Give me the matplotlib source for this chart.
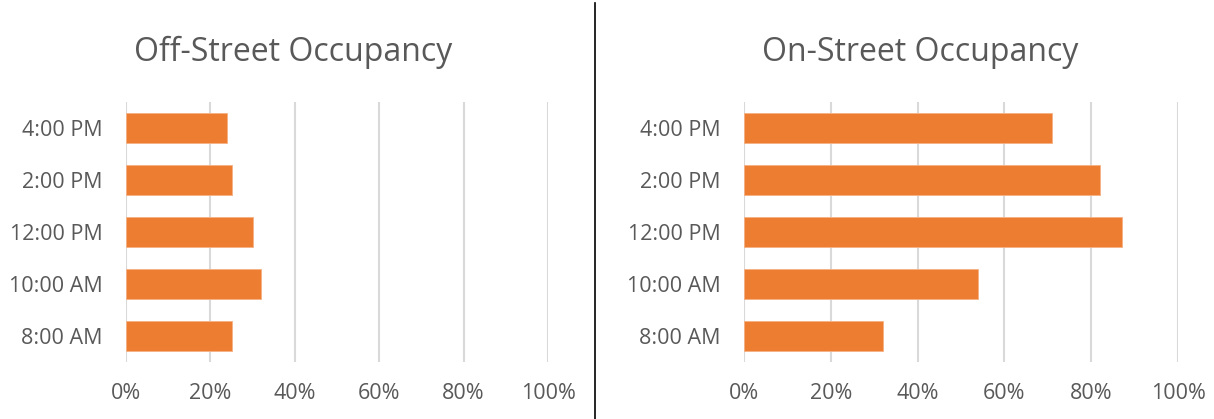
import matplotlib.pyplot as plt
from matplotlib.lines import Line2D

# Occupancy by time of day (fraction of spaces occupied)
times = ["8:00 AM", "10:00 AM", "12:00 PM", "2:00 PM", "4:00 PM"]
off_street = [0.25, 0.32, 0.30, 0.25, 0.24]
on_street = [0.32, 0.54, 0.87, 0.82, 0.71]
x_ticks = [0, 0.2, 0.4, 0.6, 0.8, 1.0]
x_labels = ["0%", "20%", "40%", "60%", "80%", "100%"]

bar_color = "#ED7D31"
grid_color = "#D9D9D9"
text_color = "#595959"

plt.rcParams['font.family'] = ['Open Sans', 'DejaVu Sans']

W, H = 1214, 419
fig = plt.figure(figsize=(W / 100, H / 100), dpi=100)

# title, values, axes left/width in px, title centre in px
panels = [
    ("Off-Street Occupancy", off_street, [126, 422], 293),
    ("On-Street Occupancy", on_street, [744, 434], 920),
]

for title, vals, (x0, w), tx in panels:
    ax = fig.add_axes([x0 / W, (H - 362) / H, w / W, 260 / H])
    ax.barh(range(len(times)), vals, height=0.57, color=bar_color,
            edgecolor="#F4B183", linewidth=0.6, zorder=3)
    ax.set_xlim(0, 1.0)
    ax.set_ylim(-0.5, len(times) - 0.5)
    ax.set_xticks(x_ticks)
    ax.set_xticklabels(x_labels)
    ax.set_yticks(range(len(times)))
    ax.set_yticklabels(times)
    ax.tick_params(axis='both', length=0, labelsize=15.5, colors=text_color)
    ax.tick_params(axis='x', pad=15)
    ax.tick_params(axis='y', pad=17)
    for s in ax.spines.values():
        s.set_visible(False)
    ax.grid(axis='x', color=grid_color, linewidth=1.5, zorder=0)
    ax.set_axisbelow(True)
    fig.text(tx / W, (H - 61) / H, title, fontsize=23, color=text_color,
             ha='center', va='baseline')

# divider between the two charts
fig.add_artist(Line2D([595 / W, 595 / W], [0, 1 - 3 / H], color="black",
                      linewidth=1.2, transform=fig.transFigure))

plt.savefig("out.png", dpi=100)
